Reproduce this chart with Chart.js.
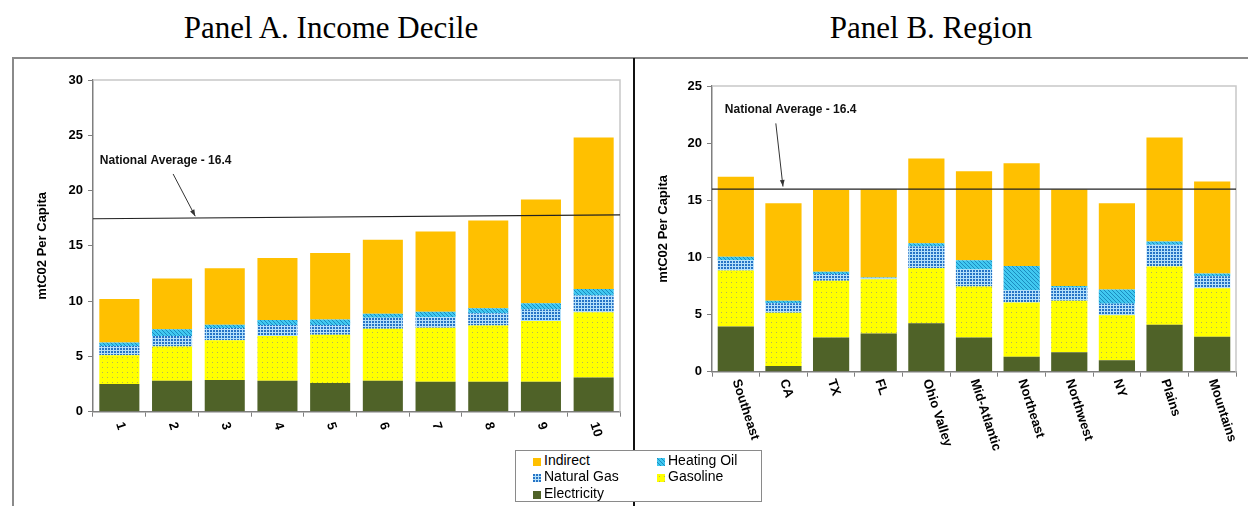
<!DOCTYPE html>
<html>
<head>
<meta charset="utf-8">
<script src="https://cdn.jsdelivr.net/npm/chart.js@4.4.1/dist/chart.umd.min.js"></script>
<style>
  html, body { margin: 0; padding: 0; background: #fff; }
  #page { position: relative; width: 1248px; height: 506px; overflow: hidden; }
  .ptitle { position: absolute; top: 12px; width: 400px; text-align: center;
            font: 31px/31px "Liberation Serif", "Times New Roman", serif; color: #000; }
  #frame { position: absolute; left: 12px; top: 57px; width: 1250px; height: 470px;
           border-top: 2px solid #8a8a8a; border-left: 2px solid #8a8a8a; }
  #divider { position: absolute; left: 633px; top: 58px; width: 2px; height: 460px; background: #111; }
  canvas.chart { position: absolute; top: 60px; }
  #legend { position: absolute; left: 515px; top: 450px; width: 247px; height: 52px; box-sizing: border-box;
            border: 1px solid #8a8a8a; background: #fff; z-index: 5;
            font: 14px/16px "Liberation Sans", Arial, sans-serif; color: #000; }
  #legend .li { position: absolute; height: 16px; white-space: nowrap; }
  #legend canvas { display: inline-block; vertical-align: -1px; margin-right: 3px; }
</style>
</head>
<body>
<div id="page">
  <div id="frame"></div>
  <div id="divider"></div>
  <div class="ptitle" style="left:131px">Panel A. Income Decile</div>
  <div class="ptitle" style="left:731px">Panel B. Region</div>
  <canvas id="chartA" class="chart" width="634" height="446" style="left:0px"></canvas>
  <canvas id="chartB" class="chart" width="614" height="446" style="left:634px"></canvas>
  <div id="legend"></div>
</div>
<script>
/* ---------------- data ---------------- */
const decileLabels = ['1', '2', '3', '4', '5', '6', '7', '8', '9', '10'];
const regionLabels = ['Southeast', 'CA', 'TX', 'FL', 'Ohio Valley', 'Mid-Atlantic',
                      'Northeast', 'Northwest', 'NY', 'Plains', 'Mountains'];

// stacking order, bottom to top
const seriesNames = ['Electricity', 'Gasoline', 'Natural Gas', 'Heating Oil', 'Indirect'];

// Panel A - income decile (mtCO2 per capita)
const elecA = [2.5, 2.8, 2.87, 2.8, 2.6, 2.8, 2.7, 2.7, 2.7, 3.1];
const gasA  = [2.6, 3.1, 3.6, 4.05, 4.35, 4.7, 4.9, 5.1, 5.5, 5.9];
const ngA   = [0.85, 0.95, 1.1, 1.0, 0.9, 1.0, 0.95, 1.1, 1.05, 1.5];
const hoA   = [0.3, 0.6, 0.3, 0.45, 0.5, 0.35, 0.5, 0.45, 0.55, 0.6];
const indA  = [3.95, 4.6, 5.1, 5.6, 6.0, 6.7, 7.25, 7.95, 9.4, 13.7];

// Panel B - region
const elecB = [3.95, 0.5, 3.0, 3.35, 4.25, 3.0, 1.3, 1.7, 1.0, 4.1, 3.05];
const gasB  = [4.9, 4.65, 4.95, 4.75, 4.8, 4.45, 4.75, 4.5, 3.95, 5.1, 4.25];
const ngB   = [0.9, 0.85, 0.6, 0.1, 1.9, 1.5, 1.1, 1.15, 1.0, 1.9, 1.05];
const hoB   = [0.3, 0.2, 0.2, 0.05, 0.3, 0.8, 2.1, 0.15, 1.25, 0.3, 0.25];
const indB  = [7.0, 8.55, 7.15, 7.7, 7.4, 7.8, 9.0, 8.45, 7.55, 9.1, 8.05];

const yMaxA = 30, yMaxB = 25, yStep = 5;

// national average line: value at left edge / right edge of the plot
const avgLineA = [17.45, 17.8];
const avgLineB = [15.98, 15.98];
const avgText = 'National Average - 16.4';
// note anchors as [category index, value]
const noteA = { text: [-0.37, 22.7],  tail: [1.02, 21.5],  tip: [1.44, 17.68] };
const noteB = { text: [-0.23, 22.96], tail: [0.84, 21.73], tip: [0.99, 16.2] };

const legendOrder = ['Indirect', 'Heating Oil', 'Natural Gas', 'Gasoline', 'Electricity'];

/* ---------------- fill patterns ---------------- */
function tile(w, h, draw) {
  const c = document.createElement('canvas');
  c.width = w; c.height = h;
  draw(c.getContext('2d'));
  return c;
}
const tiles = {
  'Electricity': tile(4, 4, g => { g.fillStyle = '#4F6228'; g.fillRect(0, 0, 4, 4); }),
  'Gasoline':    tile(5, 5, g => { g.fillStyle = '#FFFF00'; g.fillRect(0, 0, 5, 5);
                                   g.fillStyle = '#B4B455'; g.fillRect(2, 2, 1, 1); }),
  'Natural Gas': tile(3, 3, g => { g.fillStyle = '#B4E0FA'; g.fillRect(0, 0, 3, 3);
                                   g.fillStyle = '#2774C6'; g.fillRect(0, 0, 2, 2); }),
  'Heating Oil': tile(4, 4, g => { g.fillStyle = '#40C8F0'; g.fillRect(0, 0, 4, 4);
                                   g.fillStyle = '#1C8CC0';
                                   for (let i = 0; i < 4; i++) g.fillRect(i, i, 1, 1); }),
  'Indirect':    tile(4, 4, g => { g.fillStyle = '#FFC000'; g.fillRect(0, 0, 4, 4); }),
};

Chart.defaults.font.family = '"Liberation Sans", Arial, sans-serif';
Chart.defaults.color = '#000';

/* ---------------- decorations: plot frame, average line, note, rotated labels ---------------- */
const panelDecor = {
  id: 'panelDecor',
  beforeDatasetsDraw(chart) {
    const { ctx, chartArea: a } = chart;
    ctx.save();
    ctx.strokeStyle = '#c8c8c8';
    ctx.lineWidth = 1.5;
    ctx.beginPath();
    ctx.moveTo(a.left, a.top); ctx.lineTo(a.right, a.top); ctx.lineTo(a.right, a.bottom);
    ctx.stroke();
    ctx.restore();
  },
  afterDraw(chart) {
    const o = chart.options.plugins.panelDecor;
    const { ctx, chartArea: a, scales: { x, y } } = chart;
    ctx.save();

    // national average line
    ctx.strokeStyle = '#222';
    ctx.lineWidth = 1.2;
    ctx.beginPath();
    ctx.moveTo(a.left, y.getPixelForValue(o.avg[0]));
    ctx.lineTo(a.right, y.getPixelForValue(o.avg[1]));
    ctx.stroke();

    // note text
    ctx.font = 'bold 12px "Liberation Sans", Arial, sans-serif';
    ctx.fillStyle = '#111';
    ctx.textAlign = 'left';
    ctx.textBaseline = 'middle';
    ctx.fillText(o.text, x.getPixelForValue(o.note.text[0]), y.getPixelForValue(o.note.text[1]));

    // arrow
    const x0 = x.getPixelForValue(o.note.tail[0]), y0 = y.getPixelForValue(o.note.tail[1]);
    const x1 = x.getPixelForValue(o.note.tip[0]),  y1 = y.getPixelForValue(o.note.tip[1]);
    const ang = Math.atan2(y1 - y0, x1 - x0);
    ctx.strokeStyle = '#333';
    ctx.lineWidth = 1;
    ctx.beginPath(); ctx.moveTo(x0, y0); ctx.lineTo(x1, y1); ctx.stroke();
    ctx.fillStyle = '#333';
    ctx.beginPath();
    ctx.moveTo(x1, y1);
    ctx.lineTo(x1 - 7 * Math.cos(ang - 0.35), y1 - 7 * Math.sin(ang - 0.35));
    ctx.lineTo(x1 - 7 * Math.cos(ang + 0.35), y1 - 7 * Math.sin(ang + 0.35));
    ctx.closePath(); ctx.fill();

    // category labels, rotated clockwise
    ctx.font = 'bold 13px "Liberation Sans", Arial, sans-serif';
    ctx.fillStyle = '#000';
    chart.data.labels.forEach((lab, i) => {
      ctx.save();
      ctx.translate(x.getPixelForTick(i), a.bottom + o.labelGap);
      ctx.rotate(o.labelAngle * Math.PI / 180);
      ctx.fillText(lab, 0, 0);
      ctx.restore();
    });
    ctx.restore();
  }
};

/* ---------------- build one panel ---------------- */
function buildPanel(canvasId, labels, stacks, yMax, avg, note, geo) {
  const ctx = document.getElementById(canvasId).getContext('2d');
  const datasets = seriesNames.map((name, i) => ({
    label: name,
    data: stacks[i],
    backgroundColor: ctx.createPattern(tiles[name], 'repeat'),
    borderWidth: 0,
    barPercentage: 0.76,
    categoryPercentage: 1.0,
  }));

  return new Chart(ctx, {
    type: 'bar',
    data: { labels, datasets },
    options: {
      responsive: false,
      animation: false,
      events: [],
      layout: { padding: { top: geo.top, right: geo.right, left: 0, bottom: 0 } },
      plugins: {
        legend: { display: false },
        tooltip: { enabled: false },
        panelDecor: { avg, note, text: avgText, labelGap: geo.labelGap, labelAngle: 72 },
      },
      scales: {
        x: {
          stacked: true,
          afterFit: s => { s.height = geo.xHeight; },
          ticks: { display: false },
          grid: { drawOnChartArea: false, drawTicks: true, tickLength: 5, color: '#7f7f7f', offset: true },
          border: { color: '#7f7f7f', width: 1.5 },
        },
        y: {
          stacked: true,
          min: 0,
          max: yMax,
          afterFit: s => { s.width = geo.yWidth; },
          ticks: { stepSize: yStep, padding: 5, color: '#000', font: { size: 13, weight: 'bold' } },
          grid: { drawOnChartArea: false, drawTicks: true, tickLength: 5, color: '#7f7f7f' },
          border: { color: '#7f7f7f', width: 1.5 },
          title: {
            display: true,
            text: 'mtC02 Per Capita',
            color: '#000',
            font: { size: 13, weight: 'bold' },
            padding: { top: geo.titlePad, bottom: 0 },
          },
        },
      },
    },
    plugins: [panelDecor],
  });
}

buildPanel('chartA', decileLabels, [elecA, gasA, ngA, hoA, indA], yMaxA, avgLineA, noteA,
           { top: 20, right: 14, xHeight: 94.3, yWidth: 93, titlePad: 35, labelGap: 11 });
buildPanel('chartB', regionLabels, [elecB, gasB, ngB, hoB, indB], yMaxB, avgLineB, noteB,
           { top: 26, right: 12, xHeight: 134.3, yWidth: 78, titlePad: 22, labelGap: 8 });

/* ---------------- shared legend ---------------- */
const legend = document.getElementById('legend');
legendOrder.forEach((name, i) => {
  const item = document.createElement('div');
  item.className = 'li';
  item.style.left = (i % 2 ? 141 : 17) + 'px';
  item.style.top = (0.5 + Math.floor(i / 2) * 16.7) + 'px';
  const sw = document.createElement('canvas');
  sw.width = 8; sw.height = 8;
  const g = sw.getContext('2d');
  g.fillStyle = g.createPattern(tiles[name], 'repeat');
  g.fillRect(0, 0, 8, 8);
  item.appendChild(sw);
  item.appendChild(document.createTextNode(name));
  legend.appendChild(item);
});
</script>
</body>
</html>
